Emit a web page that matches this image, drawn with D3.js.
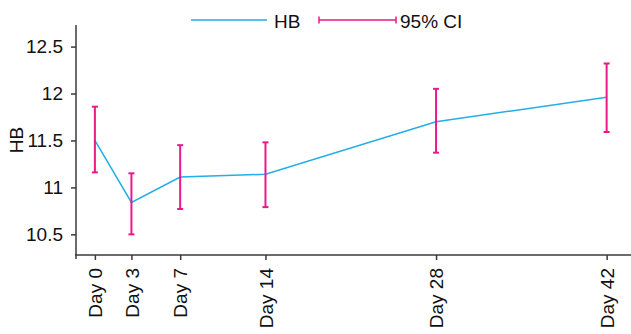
<!DOCTYPE html>
<html>
<head>
<meta charset="utf-8">
<script src="https://cdn.jsdelivr.net/npm/d3@7"></script>
<style>
    body { margin: 0; background: #fff; }
    svg text { font-family: "Liberation Sans", Arial, sans-serif; fill: #111; }
</style>
</head>
<body>
<div id="chart"></div>
<script>
// values
const days = [0, 3, 7, 14, 28, 42];
const dayLabels = ['Day 0', 'Day 3', 'Day 7', 'Day 14', 'Day 28', 'Day 42'];
const hbMean = [11.50, 10.84, 11.11, 11.14, 11.70, 11.96];
const ciLower = [11.16, 10.50, 10.77, 10.79, 11.37, 11.59];
const ciUpper = [11.86, 11.15, 11.45, 11.48, 12.05, 12.32];
const yTicks = [10.5, 11, 11.5, 12, 12.5];

const width = 631;
const height = 334;
const fontSize = '19px';
const lineColor = '#22aee6';
const ciColor = '#e8198b';
const axisColor = '#3a3a3a';

const svg = d3.select('#chart').append('svg')
    .attr('width', width)
    .attr('height', height);

const x = d3.scaleLinear().domain([-1.55, 44]).range([76, 631]);
const y = d3.scaleLinear().domain([10.28, 12.73]).range([255, 25]);

// y axis
const yAxis = svg.append('g')
    .attr('transform', 'translate(76,0)')
    .call(d3.axisLeft(y).tickValues(yTicks).tickFormat(d => d).tickSize(5).tickPadding(8).tickSizeOuter(0));
yAxis.select('.domain').remove();
yAxis.selectAll('line').attr('stroke', axisColor).attr('stroke-width', 1.5);
yAxis.selectAll('text').style('font-size', fontSize);
svg.append('line')
    .attr('x1', 76).attr('x2', 76)
    .attr('y1', 25).attr('y2', 259)
    .attr('stroke', axisColor).attr('stroke-width', 1.5);

// x axis
const xAxis = svg.append('g')
    .attr('transform', 'translate(0,255)')
    .call(d3.axisBottom(x).tickValues(days).tickFormat((d, i) => dayLabels[i]).tickSize(5).tickSizeOuter(0));
xAxis.select('.domain').remove();
xAxis.selectAll('line').attr('stroke', axisColor).attr('stroke-width', 1.5);
xAxis.selectAll('text')
    .style('font-size', fontSize)
    .attr('text-anchor', 'end')
    .attr('x', 0).attr('y', 0)
    .attr('dy', '0.35em')
    .attr('transform', 'translate(0,13) rotate(-90)');
svg.append('line')
    .attr('x1', 75).attr('x2', width)
    .attr('y1', 255).attr('y2', 255)
    .attr('stroke', axisColor).attr('stroke-width', 1.5);

// y axis title
svg.append('text')
    .attr('transform', 'translate(16,140) rotate(-90)')
    .attr('text-anchor', 'middle')
    .attr('dy', '0.35em')
    .style('font-size', fontSize)
    .text('HB');

// mean line
const points = days.map((d, i) => [x(d), y(hbMean[i])]);
svg.append('path')
    .attr('d', d3.line()(points))
    .attr('fill', 'none')
    .attr('stroke', lineColor)
    .attr('stroke-width', 1.5);

// error bars
const capW = 3;
const bars = svg.append('g').attr('stroke', ciColor).attr('stroke-width', 2);
days.forEach((d, i) => {
    const cx = x(d);
    bars.append('line').attr('x1', cx).attr('x2', cx).attr('y1', y(ciLower[i])).attr('y2', y(ciUpper[i]));
    bars.append('line').attr('x1', cx - capW).attr('x2', cx + capW).attr('y1', y(ciLower[i])).attr('y2', y(ciLower[i]));
    bars.append('line').attr('x1', cx - capW).attr('x2', cx + capW).attr('y1', y(ciUpper[i])).attr('y2', y(ciUpper[i]));
});

// legend
const legend = svg.append('g');
legend.append('line')
    .attr('x1', 191).attr('x2', 267).attr('y1', 20).attr('y2', 20)
    .attr('stroke', lineColor).attr('stroke-width', 1.5);
legend.append('text')
    .attr('x', 274).attr('y', 21).attr('dy', '0.35em')
    .style('font-size', fontSize)
    .text('HB');
const ciLeg = legend.append('g').attr('stroke', ciColor).attr('stroke-width', 1.5);
ciLeg.append('line').attr('x1', 319).attr('x2', 396).attr('y1', 20).attr('y2', 20);
ciLeg.append('line').attr('x1', 319).attr('x2', 319).attr('y1', 16.5).attr('y2', 23.5);
ciLeg.append('line').attr('x1', 396).attr('x2', 396).attr('y1', 16.5).attr('y2', 23.5);
legend.append('text')
    .attr('x', 400).attr('y', 21).attr('dy', '0.35em')
    .style('font-size', fontSize)
    .text('95% CI');
</script>
</body>
</html>
